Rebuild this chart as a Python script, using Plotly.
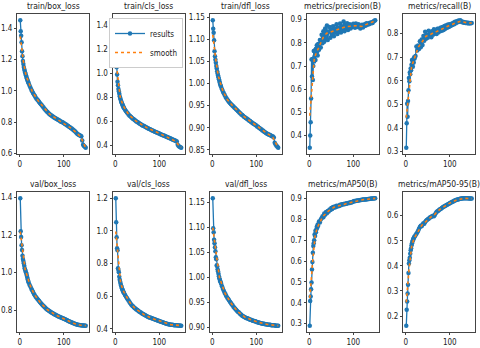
import numpy as np
import plotly.graph_objects as go

epochs = list(range(1, 21)) + list(range(22, 151, 2))

train_box_loss = [
    1.450, 1.381, 1.352, 1.310, 1.253, 1.221, 1.190, 1.172, 1.152, 1.140, 1.128, 1.117, 1.108, 1.097, 1.088, 1.079, 1.071, 1.063, 1.056, 1.048,
    1.034, 1.021, 1.009, 0.997, 0.986, 0.977, 0.968, 0.958, 0.950, 0.943, 0.936, 0.928, 0.921,
    0.914, 0.907, 0.900, 0.893, 0.886, 0.879, 0.872, 0.866, 0.861, 0.855, 0.850, 0.846, 0.842,
    0.838, 0.834, 0.830, 0.826, 0.823, 0.820, 0.816, 0.813, 0.810, 0.806, 0.803, 0.800, 0.797,
    0.794, 0.790, 0.787, 0.783, 0.779, 0.775, 0.771, 0.767, 0.763, 0.759, 0.755, 0.750, 0.745,
    0.740, 0.734, 0.728, 0.723, 0.719, 0.716, 0.713, 0.710, 0.682, 0.656, 0.648, 0.642, 0.637]
train_cls_loss = [
    1.440, 1.120, 1.050, 0.990, 0.930, 0.900, 0.870, 0.850, 0.830, 0.810, 0.795, 0.782, 0.770, 0.760, 0.750, 0.741, 0.732, 0.724, 0.716, 0.709,
    0.697, 0.686, 0.676, 0.667, 0.658, 0.650, 0.643, 0.636, 0.629, 0.623, 0.617, 0.611, 0.605,
    0.600, 0.595, 0.590, 0.585, 0.580, 0.576, 0.571, 0.567, 0.563, 0.559, 0.555, 0.551, 0.547,
    0.543, 0.540, 0.536, 0.532, 0.529, 0.525, 0.522, 0.518, 0.515, 0.512, 0.508, 0.505, 0.502,
    0.499, 0.496, 0.492, 0.489, 0.486, 0.483, 0.480, 0.477, 0.473, 0.470, 0.467, 0.464, 0.460,
    0.457, 0.454, 0.450, 0.447, 0.444, 0.441, 0.438, 0.434, 0.405, 0.395, 0.389, 0.385, 0.382]
train_dfl_loss = [
    1.143, 1.124, 1.115, 1.098, 1.073, 1.062, 1.054, 1.047, 1.040, 1.034, 1.028, 1.023, 1.018, 1.014, 1.010, 1.006, 1.002, 0.998, 0.995, 0.992,
    0.987, 0.982, 0.978, 0.974, 0.970, 0.967, 0.964, 0.961, 0.958, 0.956, 0.954, 0.952, 0.950,
    0.948, 0.946, 0.944, 0.942, 0.940, 0.938, 0.936, 0.934, 0.932, 0.930, 0.929, 0.927, 0.925,
    0.924, 0.922, 0.921, 0.919, 0.918, 0.916, 0.915, 0.913, 0.912, 0.910, 0.909, 0.908, 0.906,
    0.905, 0.903, 0.902, 0.900, 0.899, 0.897, 0.896, 0.894, 0.893, 0.891, 0.890, 0.888, 0.887,
    0.886, 0.885, 0.884, 0.883, 0.882, 0.881, 0.880, 0.878, 0.866, 0.862, 0.859, 0.857, 0.855]
precision = [
    0.348, 0.400, 0.458, 0.560, 0.728, 0.655, 0.730, 0.640, 0.700, 0.765, 0.720, 0.742, 0.768, 0.726, 0.775, 0.752, 0.790, 0.762, 0.745, 0.795,
    0.770, 0.812, 0.780, 0.835, 0.798, 0.850, 0.805, 0.862, 0.820, 0.875, 0.812, 0.848, 0.868,
    0.822, 0.858, 0.835, 0.872, 0.828, 0.862, 0.845, 0.880, 0.838, 0.866, 0.850, 0.884, 0.845,
    0.872, 0.858, 0.892, 0.850, 0.878, 0.862, 0.885, 0.855, 0.870, 0.880, 0.862, 0.876, 0.868,
    0.882, 0.872, 0.865, 0.884, 0.875, 0.868, 0.880, 0.874, 0.862, 0.870, 0.878, 0.866, 0.872,
    0.880, 0.874, 0.885, 0.878, 0.884, 0.880, 0.887, 0.883, 0.889, 0.886, 0.892, 0.895, 0.897]
recall = [
    0.317, 0.420, 0.503, 0.448, 0.515, 0.560, 0.612, 0.598, 0.635, 0.628, 0.652, 0.645, 0.668, 0.688, 0.672, 0.660, 0.690, 0.678, 0.700, 0.695,
    0.705, 0.745, 0.728, 0.750, 0.735, 0.768, 0.742, 0.775, 0.752, 0.790, 0.770, 0.808, 0.778,
    0.795, 0.782, 0.812, 0.790, 0.800, 0.785, 0.810, 0.795, 0.818, 0.800, 0.812, 0.798, 0.820,
    0.805, 0.822, 0.810, 0.826, 0.812, 0.828, 0.815, 0.832, 0.820, 0.835, 0.825, 0.838, 0.828,
    0.840, 0.832, 0.842, 0.836, 0.846, 0.840, 0.850, 0.844, 0.852, 0.848, 0.855, 0.850, 0.856,
    0.852, 0.848, 0.850, 0.846, 0.848, 0.845, 0.847, 0.844, 0.846, 0.843, 0.845, 0.844, 0.845]
val_box_loss = [
    1.395, 1.220, 1.190, 1.145, 1.120, 1.090, 1.072, 1.062, 1.050, 1.036, 1.023, 1.015, 1.008, 1.000, 0.994, 0.984, 0.974, 0.963, 0.955, 0.948,
    0.936, 0.926, 0.916, 0.906, 0.897, 0.888, 0.879, 0.872, 0.866, 0.860, 0.854, 0.849, 0.843,
    0.837, 0.832, 0.827, 0.822, 0.817, 0.813, 0.808, 0.804, 0.801, 0.797, 0.794, 0.791, 0.788,
    0.785, 0.782, 0.779, 0.777, 0.774, 0.772, 0.769, 0.767, 0.765, 0.763, 0.761, 0.759, 0.757,
    0.755, 0.753, 0.750, 0.748, 0.746, 0.743, 0.741, 0.739, 0.737, 0.735, 0.733, 0.731, 0.729,
    0.727, 0.726, 0.724, 0.723, 0.722, 0.721, 0.720, 0.720, 0.719, 0.719, 0.719, 0.718, 0.718]
val_cls_loss = [
    1.198, 1.052, 0.960, 0.892, 0.880, 0.770, 0.760, 0.745, 0.718, 0.700, 0.688, 0.675, 0.665, 0.657, 0.648, 0.640, 0.634, 0.628, 0.622, 0.617,
    0.607, 0.598, 0.589, 0.581, 0.573, 0.565, 0.556, 0.549, 0.543, 0.537, 0.532, 0.527, 0.523,
    0.518, 0.514, 0.510, 0.506, 0.502, 0.499, 0.495, 0.492, 0.489, 0.486, 0.483, 0.479, 0.476,
    0.474, 0.471, 0.469, 0.467, 0.465, 0.463, 0.461, 0.459, 0.457, 0.455, 0.453, 0.451, 0.449,
    0.447, 0.445, 0.443, 0.441, 0.439, 0.437, 0.435, 0.433, 0.431, 0.430, 0.428, 0.427, 0.426,
    0.425, 0.424, 0.424, 0.423, 0.422, 0.422, 0.421, 0.421, 0.420, 0.420, 0.420, 0.419, 0.419]
val_dfl_loss = [
    1.158, 1.098, 1.090, 1.075, 1.068, 1.060, 1.052, 1.040, 1.036, 1.024, 1.022, 1.016, 1.012, 1.007, 1.002, 0.998, 0.995, 0.992, 0.990, 0.987,
    0.982, 0.977, 0.973, 0.969, 0.966, 0.962, 0.959, 0.957, 0.954, 0.951, 0.949, 0.946, 0.944,
    0.941, 0.939, 0.937, 0.935, 0.933, 0.931, 0.930, 0.928, 0.926, 0.925, 0.923, 0.922, 0.921,
    0.920, 0.919, 0.918, 0.918, 0.917, 0.916, 0.915, 0.915, 0.914, 0.913, 0.913, 0.912, 0.912,
    0.911, 0.910, 0.910, 0.909, 0.909, 0.908, 0.908, 0.907, 0.907, 0.907, 0.906, 0.906, 0.906,
    0.905, 0.905, 0.905, 0.905, 0.904, 0.904, 0.904, 0.904, 0.904, 0.903, 0.903, 0.903, 0.903]
map50 = [
    0.290, 0.408, 0.430, 0.465, 0.497, 0.560, 0.595, 0.640, 0.672, 0.685, 0.700, 0.728, 0.720, 0.745, 0.738, 0.752, 0.765, 0.760, 0.775, 0.770,
    0.790, 0.785, 0.800, 0.805, 0.815, 0.810, 0.828, 0.822, 0.835, 0.830, 0.840, 0.838, 0.848,
    0.845, 0.855, 0.850, 0.860, 0.856, 0.862, 0.858, 0.865, 0.862, 0.866, 0.864, 0.870, 0.868,
    0.873, 0.871, 0.874, 0.873, 0.876, 0.875, 0.878, 0.877, 0.880, 0.879, 0.882, 0.881, 0.884,
    0.886, 0.888, 0.887, 0.889, 0.890, 0.891, 0.891, 0.892, 0.893, 0.893, 0.894, 0.895, 0.895,
    0.896, 0.896, 0.897, 0.897, 0.898, 0.898, 0.899, 0.899, 0.900, 0.900, 0.900, 0.901, 0.901]
map50_95 = [
    0.162, 0.225, 0.258, 0.290, 0.325, 0.372, 0.410, 0.422, 0.432, 0.448, 0.462, 0.470, 0.482, 0.490, 0.496, 0.502, 0.507, 0.510, 0.514, 0.517,
    0.522, 0.528, 0.533, 0.540, 0.548, 0.555, 0.560, 0.558, 0.565, 0.570, 0.568, 0.575, 0.580,
    0.583, 0.586, 0.588, 0.592, 0.594, 0.596, 0.598, 0.600, 0.598, 0.604, 0.610, 0.615, 0.618,
    0.620, 0.624, 0.626, 0.628, 0.631, 0.634, 0.636, 0.638, 0.640, 0.642, 0.644, 0.646, 0.648,
    0.650, 0.652, 0.654, 0.656, 0.657, 0.659, 0.660, 0.662, 0.663, 0.664, 0.665, 0.666, 0.667,
    0.668, 0.668, 0.669, 0.669, 0.669, 0.669, 0.669, 0.669, 0.669, 0.668, 0.668, 0.668, 0.668]

titles = ['train/box_loss', 'train/cls_loss', 'train/dfl_loss', 'metrics/precision(B)', 'metrics/recall(B)',
          'val/box_loss', 'val/cls_loss', 'val/dfl_loss', 'metrics/mAP50(B)', 'metrics/mAP50-95(B)']
series = [train_box_loss, train_cls_loss, train_dfl_loss, precision, recall,
          val_box_loss, val_cls_loss, val_dfl_loss, map50, map50_95]
dticks = [0.2, 0.2, 0.05, 0.1, 0.1, 0.2, 0.2, 0.05, 0.1, 0.1]
fmts = ['.1f', '.1f', '.2f', '.1f', '.1f', '.1f', '.1f', '.2f', '.1f', '.1f']


def smooth(y, sigma=3.0):
    # gaussian smoothing over epochs, like the yolo results plot
    x = np.array(epochs, float)
    y = np.array(y, float)
    w = np.exp(-0.5 * ((x[:, None] - x[None, :]) / sigma) ** 2)
    return (w @ y) / w.sum(axis=1)


W, H = 480, 348
lefts = [17.0, 112.5, 209.5, 306.5, 403.0]
width = 72
rows_y = [(14, 154), (192, 332)]
font = 'Liberation Sans Narrow, DejaVu Sans Condensed, DejaVu Sans'

fig = go.Figure()
annotations = []
xlo, xhi = min(epochs), max(epochs)
xpad = 0.05 * (xhi - xlo)

for i, (title, y) in enumerate(zip(titles, series)):
    r, c = divmod(i, 5)
    ax = '' if i == 0 else str(i + 1)
    show = (i == 1)
    fig.add_trace(go.Scatter(x=epochs, y=y, mode='lines+markers', name='results',
                             line=dict(color='#1f77b4', width=1.3),
                             marker=dict(color='#1f77b4', size=4.5),
                             xaxis='x' + ax, yaxis='y' + ax, showlegend=show))
    fig.add_trace(go.Scatter(x=epochs, y=smooth(y), mode='lines', name='smooth',
                             line=dict(color='#ff7f0e', width=1.6, dash='dot'),
                             xaxis='x' + ax, yaxis='y' + ax, showlegend=show))
    lo, hi = min(y), max(y)
    pad = 0.05 * (hi - lo)
    top, bot = rows_y[r]
    axis_common = dict(showline=True, mirror=True, linecolor='#444', linewidth=1,
                       ticks='outside', ticklen=2, tickcolor='#444', showgrid=False,
                       zeroline=False, automargin=False,
                       tickfont=dict(size=8, color='#222', family=font))
    fig.update_layout({
        'xaxis' + ax: dict(domain=[lefts[c] / W, (lefts[c] + width) / W], anchor='y' + ax,
                           range=[xlo - xpad, xhi + xpad], tick0=0, dtick=100, **axis_common),
        'yaxis' + ax: dict(domain=[1 - bot / H, 1 - top / H], anchor='x' + ax,
                           range=[lo - pad, hi + pad], dtick=dticks[i], tickformat=fmts[i],
                           **axis_common),
    })
    annotations.append(dict(text=title, x=(lefts[c] + width / 2) / W, y=1 - top / H,
                            xref='paper', yref='paper', xanchor='center', yanchor='bottom',
                            yshift=1, showarrow=False,
                            font=dict(size=8.5, color='#222', family=font)))

fig.update_layout(
    width=W, height=H,
    margin=dict(l=0, r=0, t=0, b=0),
    paper_bgcolor='white', plot_bgcolor='white',
    annotations=annotations,
    legend=dict(x=183 / W, y=1 - 18 / H, xanchor='right', yanchor='top',
                bgcolor='white', bordercolor='#ccc', borderwidth=1,
                font=dict(size=8, color='#222', family=font),
                itemwidth=30, tracegroupgap=0),
)

# the page body has a default 8px margin; drop it so the figure sits at 0,0
fig.write_html('out.html', config={'displayModeBar': False},
               post_script="document.body.style.margin='0';")
